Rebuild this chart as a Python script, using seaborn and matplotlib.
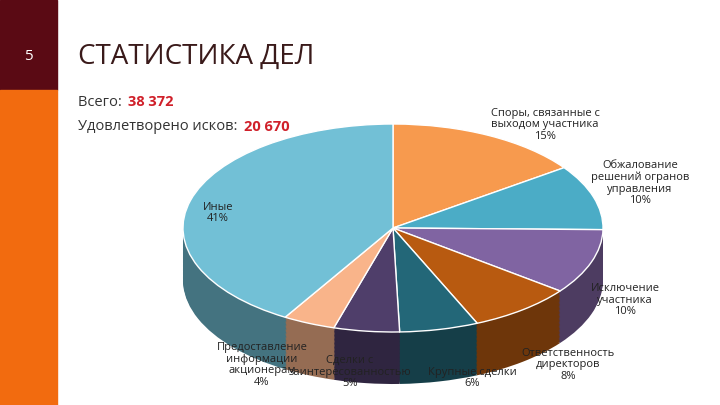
import matplotlib
matplotlib.use("Agg")
import matplotlib.pyplot as plt
import seaborn as sns
import numpy as np
import matplotlib.colors as mc

sns.set_theme(style="white")
plt.rcParams['font.family'] = ['Open Sans', 'DejaVu Sans']

categories = ["Споры, связанные с\nвыходом участника", "Обжалование\nрешений огранов\nуправления",
              "Исключение\nучастника", "Ответственность\nдиректоров", "Крупные сделки",
              "Сделки с\nзаинтересованностью", "Предоставление\nинформации\nакционерам", "Иные"]
values = [15, 10, 10, 8, 6, 5, 4, 41]
colors = ["#F79A4E", "#4BACC6", "#8064A2", "#B85A10", "#236778", "#4F3E6A", "#F9B48A", "#72C0D6"]
label_pos = [(545, 125), (640, 183), (625, 300), (568, 365), (472, 378), (350, 372), (262, 365), (218, 213)]

fig = plt.figure(figsize=(7.2, 4.05), dpi=100)
bg = fig.add_axes([0, 0, 1, 1])
bg.set_xlim(0, 720); bg.set_ylim(405, 0); bg.axis('off')
bg.add_patch(plt.Rectangle((0, 0), 57, 90, color="#5A0A14"))
bg.add_patch(plt.Rectangle((0, 90), 57, 315, color="#F26B0F"))
bg.text(28, 57, "5", color="white", fontsize=11, ha="center", va="center")
bg.text(78, 57, "СТАТИСТИКА ДЕЛ", color="#3A1A1A", fontsize=20, va="center")
t1 = bg.text(78, 102, "Всего: ", color="#333", fontsize=10.5, va="center")
bg.annotate("38 372", xy=(1, 0.5), xycoords=t1, xytext=(2, 0), textcoords="offset points",
            color="#D0202A", fontsize=10.5, va="center", weight="bold")
t2 = bg.text(78, 127, "Удовлетворено исков: ", color="#333", fontsize=10.5, va="center")
bg.annotate("20 670", xy=(1, 0.5), xycoords=t2, xytext=(2, 0), textcoords="offset points",
            color="#D0202A", fontsize=10.5, va="center", weight="bold")

ax = fig.add_axes([0, 0, 1, 1])
cx, cy, rx, ry = 393, 228, 210, 104
depth = 52 / ry
side = [tuple(np.array(mc.to_rgb(c)) * 0.6) for c in colors]
for off in np.linspace(-depth, 0, 40)[:-1]:
    ax.pie(values, colors=side, startangle=90, counterclock=False, center=(0, off),
           wedgeprops=dict(linewidth=0))
ax.pie(values, colors=colors, startangle=90, counterclock=False, center=(0, 0),
       wedgeprops=dict(edgecolor="white", linewidth=1))
ax.set_aspect('auto')
ax.set_xlim(-cx / rx, (720 - cx) / rx)
ax.set_ylim(-(405 - cy) / ry, cy / ry)
ax.axis('off')

lab = fig.add_axes([0, 0, 1, 1])
lab.set_xlim(0, 720); lab.set_ylim(405, 0); lab.axis('off')
for (x, y), c, v in zip(label_pos, categories, values):
    lab.text(x, y, f"{c}\n{v}%", ha="center", va="center", fontsize=8, color="#222", linespacing=1.1)

fig.savefig("out.png", dpi=100)
